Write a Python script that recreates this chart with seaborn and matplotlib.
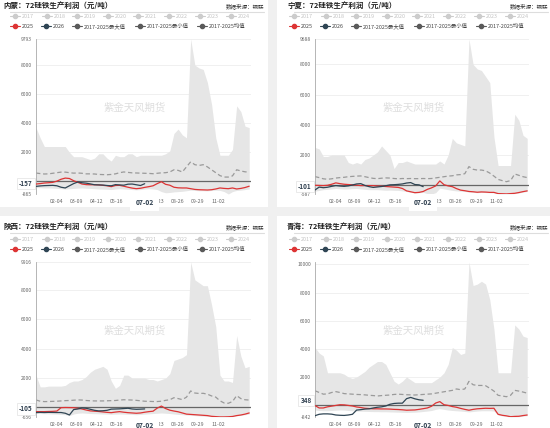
import matplotlib
matplotlib.use("Agg")
import matplotlib.pyplot as plt
from matplotlib.patches import Rectangle
import seaborn as sns
import pandas as pd

# ---------------- data ----------------
regions = ["内蒙", "宁夏", "陕西", "青海"]
title_suffix = "：72硅铁生产利润（元/吨）"
source_text = "数据来源：钢联"
watermark = "紫金天风期货"
year_labels = ["2017", "2018", "2019", "2020", "2021", "2022", "2023", "2024"]
series_labels = ["2025", "2026", "2017-2025最大值", "2017-2025最小值", "2017-2025均值"]
x_tick_labels = ["02-04", "03-09", "04-12", "05-16", "07-23", "08-26", "09-29", "11-02"]
highlight_date = "07-02"

# 内蒙
nm_max = [3700, 3000, 2400, 2400, 2400, 2400, 2400, 2400, 2000, 1700, 1700, 1700, 1600, 1500, 1600, 1900,
          1900, 1600, 1400, 1800, 1700, 1700, 1900, 1900, 1700, 1800, 1800, 1800, 1800, 1800, 1800, 1900,
          2100, 3300, 3600, 3200, 3000, 9793, 8000, 7800, 7700, 6800, 5300, 3000, 1800, 1800, 1800, 2200,
          5200, 4800, 3800, 3700]
nm_min = [-420, -430, -450, -450, -460, -480, -500, -520, -500, -480, -460, -450, -470, -480, -500, -520,
          -530, -540, -560, -520, -500, -520, -540, -560, -580, -560, -520, -500, -520, -560, -700, -780,
          -760, -720, -700, -680, -640, -600, -620, -640, -640, -650, -620, -600, -620, -700, -865, -700,
          -620, -600, -560, -520]
nm_mean = [576, 540, 510, 520, 560, 600, 640, 640, 600, 570, 580, 560, 520, 520, 510, 480,
           470, 460, 480, 520, 600, 650, 620, 590, 580, 570, 560, 550, 530, 560, 590, 600,
           650, 800, 760, 650, 1000, 1350, 1150, 1100, 1150, 1000, 800, 600, 400, 300, 300, 380,
           800, 720, 660, 640]
nm_2025 = [-180, -150, -110, -90, -65, 20, 150, 230, 200, 50, -60, -180, -220, -230, -230, -240,
           -270, -300, -360, -280, -270, -330, -400, -460, -500, -470, -410, -360, -300, -150, -20, -200,
           -260, -400, -440, -450, -450, -500, -550, -570, -580, -590, -570, -520, -450, -480, -500, -450,
           -520, -480, -420, -330]
nm_2026 = [-340, -310, -290, -280, -270, -300, -400, -450, -300, -150, -40, -90, -120, -170, -230, -240,
           -250, -280, -300, -220, -240, -260, -190, -180, -230, -280, -157]

# 宁夏
nx_max = [2500, 2400, 1900, 1900, 2000, 2000, 2000, 2000, 1500, 1400, 1500, 1400, 1700, 1800, 2000, 2200,
          2600, 2300, 2000, 1100, 1500, 1500, 1600, 1500, 1400, 1400, 1400, 1400, 1400, 1400, 1600, 1400,
          2000, 3100, 2800, 2700, 2600, 9688, 8000, 7700, 7600, 7200, 6800, 3200, 1300, 1300, 1300, 1300,
          4700, 4300, 3300, 3100]
nx_min = [-400, -350, -300, -280, -250, -220, -240, -260, -250, -230, -220, -250, -280, -300, -300, -300,
          -320, -340, -330, -340, -350, -380, -420, -470, -520, -500, -480, -560, -587, -500, -200, -250,
          -300, -350, -380, -400, -420, -450, -470, -500, -480, -490, -500, -510, -580, -587, -587, -580,
          -560, -520, -460, -420]
nx_mean = [566, 500, 420, 390, 420, 470, 500, 520, 560, 580, 600, 610, 560, 500, 450, 430,
           460, 480, 470, 440, 420, 440, 430, 440, 430, 430, 440, 430, 440, 480, 520, 560,
           600, 620, 680, 700, 760, 1230, 1050, 1000, 1000, 950, 800, 600, 380, 300, 230, 300,
           740, 650, 560, 500]
nx_2025 = [-10, -20, -30, -10, 60, 150, 100, 60, 40, 20, 0, -30, -30, -30, -30, -60,
           -70, -90, -110, -130, -150, -220, -380, -440, -500, -480, -420, -280, -180, -50, 280, 30,
           -50, -100, -230, -330, -370, -420, -440, -470, -450, -460, -480, -480, -560, -570, -580, -560,
           -540, -490, -430, -380]
nx_2026 = [-320, -130, -170, -140, -80, -30, -60, -80, -50, 10, 80, 100, -20, -100, -150, -120,
           -90, -40, 20, 30, 50, 80, 140, 170, 40, 20, -101]

# 陕西
sx_max = [2200, 1400, 1400, 1450, 1450, 1450, 1450, 1500, 1700, 1800, 1800, 1900, 2100, 2400, 2600, 2700,
          2800, 2600, 1800, 1300, 1500, 2200, 2200, 2000, 2000, 2000, 2000, 1900, 1900, 1800, 1900, 2000,
          2300, 3200, 3300, 3400, 3600, 9916, 8700, 8500, 8300, 8300, 7000, 5500, 2200, 1800, 1800, 1700,
          4900, 3500, 2700, 2800]
sx_min = [-400, -420, -430, -440, -450, -460, -480, -500, -560, -450, -400, -380, -400, -420, -430, -440,
          -450, -460, -470, -460, -450, -460, -470, -480, -500, -480, -460, -440, -420, -400, -380, -400,
          -420, -450, -480, -500, -520, -540, -560, -580, -600, -610, -630, -640, -656, -656, -650, -630,
          -580, -540, -500, -450]
sx_mean = [508, 420, 394, 400, 410, 420, 440, 460, 470, 490, 510, 500, 470, 450, 440, 440,
           440, 450, 460, 470, 500, 520, 510, 500, 480, 450, 420, 410, 400, 400, 420, 480,
           520, 660, 600, 530, 700, 1120, 980, 950, 960, 900, 780, 700, 450, 300, 280, 400,
           800, 600, 520, 500]
sx_2025 = [-290, -290, -290, -280, -270, -250, -20, -10, -15, -20, -60, -110, -180, -240, -260, -280,
           -310, -340, -360, -320, -290, -330, -360, -380, -400, -380, -330, -290, -260, -50, 90, -80,
           -190, -250, -300, -380, -460, -480, -500, -520, -540, -560, -610, -630, -650, -650, -640, -620,
           -560, -520, -460, -380]
sx_2026 = [-358, -340, -350, -340, -345, -350, -350, -400, -520, -150, -110, -40, -60, -130, -200, -240,
           -230, -200, -120, -110, -100, -80, -60, -110, -130, -120, -105]

# 青海
qh_max = [4100, 3700, 3500, 2300, 2300, 2300, 2300, 2200, 2000, 1900, 2000, 2200, 2400, 2700, 2900, 3100,
          3100, 2900, 2300, 1700, 1500, 1700, 2000, 1800, 1600, 1600, 1600, 1600, 1600, 1800, 2000, 2300,
          2900, 4100, 3900, 3600, 3700, 10170, 8500, 8600, 8800, 8600, 7500, 5400, 2300, 2300, 2300, 2300,
          5700, 5400, 4900, 4800]
qh_min = [-350, -380, -400, -400, -380, -360, -340, -350, -380, -400, -420, -430, -440, -450, -460, -460,
          -470, -470, -480, -490, -500, -510, -520, -510, -500, -480, -450, -420, -380, -300, -250, -300,
          -350, -380, -400, -420, -450, -480, -450, -420, -400, -400, -400, -420, -700, -760, -800, -842,
          -830, -820, -780, -750]
qh_mean = [1020, 900, 780, 800, 900, 960, 900, 820, 800, 780, 760, 750, 730, 700, 680, 650,
           680, 700, 720, 760, 780, 760, 740, 730, 720, 740, 760, 780, 800, 850, 900, 950,
           1000, 1050, 1150, 1100, 1150, 1690, 1450, 1400, 1400, 1380, 1200, 1000, 700, 650, 600, 700,
           1050, 1000, 930, 850]
qh_2025 = [-30, -200, -200, -120, -70, -20, 30, 20, -20, -60, -130, -170, -220, -240, -260, -260,
           -270, -270, -280, -300, -310, -330, -360, -350, -340, -300, -250, -200, -80, 150, 250, 30,
           -20, -100, -150, -230, -300, -360, -300, -260, -240, -220, -230, -220, -650, -720, -760, -820,
           -800, -790, -740, -700]
qh_2026 = [-750, -650, -620, -620, -640, -700, -720, -730, -700, -650, -350, -320, -280, -260, -200, -150,
           -120, -60, 60, 120, 140, 140, 460, 550, 450, 380, 348]

panel_max = [nm_max, nx_max, sx_max, qh_max]
panel_min = [nm_min, nx_min, sx_min, qh_min]
panel_mean = [nm_mean, nx_mean, sx_mean, qh_mean]
panel_2025 = [nm_2025, nx_2025, sx_2025, qh_2025]
panel_2026 = [nm_2026, nx_2026, sx_2026, qh_2026]
y_top_labels = [9793, 9688, 9916, 10000]
y_min_labels = [-865, -587, -656, -842]
current_labels = [-157, -101, -105, 348]

# ---------------- style ----------------
sns.set_theme(style="white")
plt.rcParams["font.family"] = ["Noto Sans CJK SC", "DejaVu Sans"]
plt.rcParams["axes.unicode_minus"] = False

RED = "#dd3434"
BLUE = "#2f4554"
DARK = "#5a5a5a"
LIGHT = "#cccccc"
BAND = "#e6e6e6"

W, H = 550, 428
fig = plt.figure(figsize=(W / 100, H / 100), dpi=100)
fig.patch.set_facecolor("#f0f0f0")

bg = fig.add_axes([0, 0, 1, 1], zorder=-1)
bg.set_xlim(0, W)
bg.set_ylim(H, 0)
bg.axis("off")

dates = pd.date_range("2025-01-01", periods=52, freq="7D")
tick_dates = [pd.Timestamp("2025-" + s) for s in x_tick_labels]
hl_date = pd.Timestamp("2025-" + highlight_date)

# layout per panel (pixels)
cards = [(-8, -6, 276, 213), (277, -6, 280, 213), (-8, 216, 276, 220), (277, 216, 280, 220)]
axes_px = [(36, 251, 39, 194), (315, 529, 39, 194), (36, 251, 262, 417), (315, 529, 262, 417)]
title_xy = [(3, 5), (287, 5), (3, 226), (287, 226)]
legend_base = [0, 279, 0, 279]
legend_y = [(16, 26), (16, 26), (239, 249), (239, 249)]
row1_x = [15, 47, 77, 108, 138, 169, 200, 231]
row2_x = [15, 46, 77, 140, 202]
ylims = [(-865, 9793), (-587, 9688), (-656, 9916), (-842, 10170)]

for k in range(4):
    cx, cy, cw, ch = cards[k]
    bg.add_patch(Rectangle((cx, cy), cw, ch, facecolor="white", edgecolor="none"))
    tx, ty = title_xy[k]
    bg.text(tx, ty, regions[k] + title_suffix, fontsize=5.4, fontweight="bold",
            color="#222222", ha="left", va="center")
    bg.text(tx + 261, ty + 1, source_text, fontsize=4.0, color="#333333", ha="right", va="center")
    bg.plot([tx + 7, tx + 261], [ty + 7, ty + 7], color="#dddddd", lw=0.8)
    base = legend_base[k]
    r1, r2 = legend_y[k]
    for lab, mx in zip(year_labels, row1_x):
        x0 = base + mx
        bg.plot([x0 - 5, x0 + 5], [r1, r1], color=LIGHT, lw=0.8)
        bg.plot([x0], [r1], "o", color=LIGHT, ms=3.0)
        bg.text(x0 + 6.5, r1, lab, fontsize=3.9, color="#c4c4c4", ha="left", va="center")
    row2_colors = [RED, BLUE, DARK, DARK, DARK]
    for lab, mx, c in zip(series_labels, row2_x, row2_colors):
        x0 = base + mx
        bg.plot([x0 - 5, x0 + 5], [r2, r2], color=c, lw=0.8)
        bg.plot([x0], [r2], "o", color=c, ms=3.0)
        bg.text(x0 + 6.5, r2, lab, fontsize=3.9, color="#444444", ha="left", va="center")

    l, r, t, b = axes_px[k]
    ax = fig.add_axes([l / W, 1 - b / H, (r - l) / W, (b - t) / H])
    ax.set_facecolor("none")

    ax.fill_between(dates, panel_min[k], panel_max[k], color=BAND, linewidth=0, zorder=1)
    sns.lineplot(x=dates, y=panel_mean[k], ax=ax, color="#9a9a9a", lw=0.9,
                 linestyle=(0, (3.5, 2.2)), zorder=2)
    ax.axhline(0, color="#666666", lw=0.9, zorder=2.5)
    sns.lineplot(x=dates, y=panel_2025[k], ax=ax, color=RED, lw=0.9, zorder=3)
    sns.lineplot(x=dates[:len(panel_2026[k])], y=panel_2026[k], ax=ax, color=BLUE, lw=0.9, zorder=3.5)

    ax.set_xlim(pd.Timestamp("2025-01-01"), pd.Timestamp("2025-12-27"))
    ax.set_ylim(*ylims[k])
    yt = [y_min_labels[k], 2000, 4000, 6000, 8000, y_top_labels[k]]
    if current_labels[k] > 250:
        yt.insert(1, 0)
    ax.set_yticks(yt)
    ax.set_yticklabels([str(v) for v in yt])
    ax.set_xticks(tick_dates)
    ax.set_xticklabels(x_tick_labels)
    ax.tick_params(axis="y", length=2, width=0.5, color="#999999", labelsize=3.6,
                   labelcolor="#666666", pad=1)
    ax.tick_params(axis="x", length=0, labelsize=3.8, labelcolor="#666666", pad=3.5)
    ax.set_axisbelow(True)
    ax.grid(axis="y", color="#eeeeee", lw=0.6)
    ax.grid(axis="x", visible=False)
    for s in ["top", "right", "bottom"]:
        ax.spines[s].set_visible(False)
    ax.spines["left"].set_color("#aaaaaa")
    ax.spines["left"].set_linewidth(0.6)
    ax.set_xlabel("")
    ax.set_ylabel("")

    ax.text(0.46, 0.56, watermark, transform=ax.transAxes, fontsize=7.5,
            color="#dedede", ha="center", va="center", zorder=1.5)

    ax.annotate(str(current_labels[k]), xy=(0, current_labels[k]),
                xycoords=("axes fraction", "data"), xytext=(-2.4, 0), textcoords="offset points",
                ha="right", va="center", fontsize=4.6, fontweight="bold", color="#2f3f4f",
                bbox=dict(boxstyle="square,pad=0.35", facecolor="white", edgecolor="#e2e2e2", lw=0.5),
                zorder=10, annotation_clip=False)
    ax.annotate(highlight_date, xy=(hl_date, 0), xycoords=("data", "axes fraction"),
                xytext=(0, -5.9), textcoords="offset points", ha="center", va="center",
                fontsize=4.9, fontweight="bold", color="#2f3f4f",
                bbox=dict(boxstyle="square,pad=0.75", facecolor="white", edgecolor="none"),
                zorder=10, annotation_clip=False)

fig.savefig("out.png", dpi=100, facecolor=fig.get_facecolor())
